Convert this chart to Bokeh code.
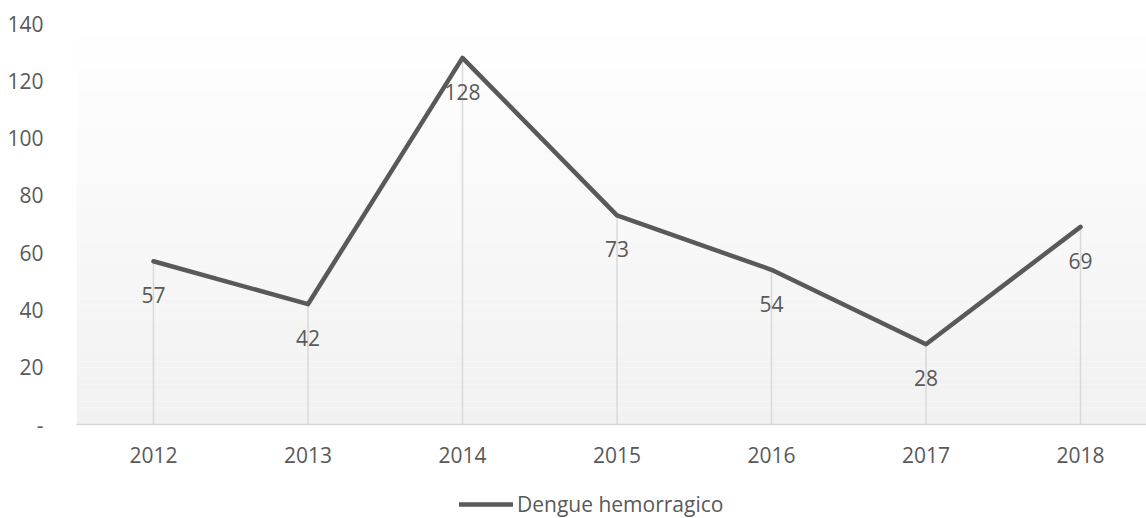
from bokeh.plotting import figure
from bokeh.layouts import column
from bokeh.models import ColumnDataSource, Legend, LegendItem, FixedTicker, Range1d
from bokeh.core.properties import value
from bokeh.embed import file_html
from bokeh.resources import INLINE

years = [2012, 2013, 2014, 2015, 2016, 2017, 2018]
cases = [57, 42, 128, 73, 54, 28, 69]
series_name = "Dengue hemorragico"
y_ticks = [0, 20, 40, 60, 80, 100, 120, 140]

FONT = "Open Sans"
TXT = "#595959"
FS = "21px"
LINE_COLOR = "#595959"

x0, x1 = 2011.502, 2018.427
p = figure(width=1146, height=470, output_backend="svg", toolbar_location=None,
           x_range=Range1d(x0, x1), y_range=Range1d(0, 140),
           min_border_left=76, min_border_right=0, min_border_top=23, min_border_bottom=46)
p.outline_line_color = None
p.xgrid.visible = False
p.ygrid.visible = False
p.background_fill_color = "white"
p.border_fill_color = "white"

# gradient background of the plot area
n = 70
step = 140 / n
bottoms = [i * step for i in range(n)]
tops = [b + step for b in bottoms]
cols = []
for i in range(n):
    t = (i + 0.5) / n  # 0 bottom -> 1 top
    v = int(round(241 + (255 - 241) * t))
    cols.append("#%02x%02x%02x" % (v, v, v))
p.quad(left=x0, right=x1, bottom=bottoms, top=tops, fill_color=cols, line_color=None, level="underlay")

src = ColumnDataSource(dict(x=years, y=cases, lbl=[str(c) for c in cases], zero=[0] * len(years)))

# drop lines
p.segment(x0="x", y0="zero", x1="x", y1="y", source=src, line_color="#d9d9d9", line_width=1.5)

ln = p.line("x", "y", source=src, line_color=LINE_COLOR, line_width=4.5, line_join="round", line_cap="round")

p.text("x", "y", text="lbl", source=src, y_offset=34, text_align="center", text_baseline="middle",
       text_font=value(FONT), text_font_size=FS, text_color=TXT)

# axes
p.xaxis.ticker = FixedTicker(ticks=years)
p.xaxis.axis_line_color = "#d9d9d9"
p.xaxis.axis_line_width = 1.5
p.xaxis.major_tick_line_color = None
p.xaxis.minor_tick_line_color = None
p.xaxis.major_label_standoff = 16
p.xaxis.major_label_text_font = FONT
p.xaxis.major_label_text_font_size = FS
p.xaxis.major_label_text_color = TXT

p.yaxis.ticker = FixedTicker(ticks=y_ticks)
p.yaxis.axis_line_color = None
p.yaxis.major_tick_line_color = None
p.yaxis.minor_tick_line_color = None
p.yaxis.major_label_standoff = 27
p.yaxis.major_label_overrides = {0: "-"}
p.yaxis.major_label_text_font = FONT
p.yaxis.major_label_text_font_size = FS
p.yaxis.major_label_text_color = TXT

# legend strip below the chart
pl = figure(width=1146, height=48, output_backend="svg", toolbar_location=None,
            x_range=Range1d(0, 1), y_range=Range1d(0, 1),
            min_border=0, min_border_left=0, min_border_right=0, min_border_top=0, min_border_bottom=0)
pl.axis.visible = False
pl.grid.visible = False
pl.outline_line_color = None
lr = pl.line(x=[float("nan")], y=[float("nan")], line_color=LINE_COLOR, line_width=4.5, line_cap="round")
legend = Legend(items=[LegendItem(label=series_name, renderers=[lr])], location=(383, 0),
                orientation="horizontal", glyph_width=54, glyph_height=20, label_standoff=4,
                padding=0, margin=0, spacing=0, border_line_color=None, background_fill_alpha=0,
                label_text_font=FONT, label_text_font_size=FS, label_text_color=TXT)
pl.add_layout(legend, "center")

layout = column(p, pl, spacing=0)
open("out.html", "w").write(file_html(layout, INLINE))
